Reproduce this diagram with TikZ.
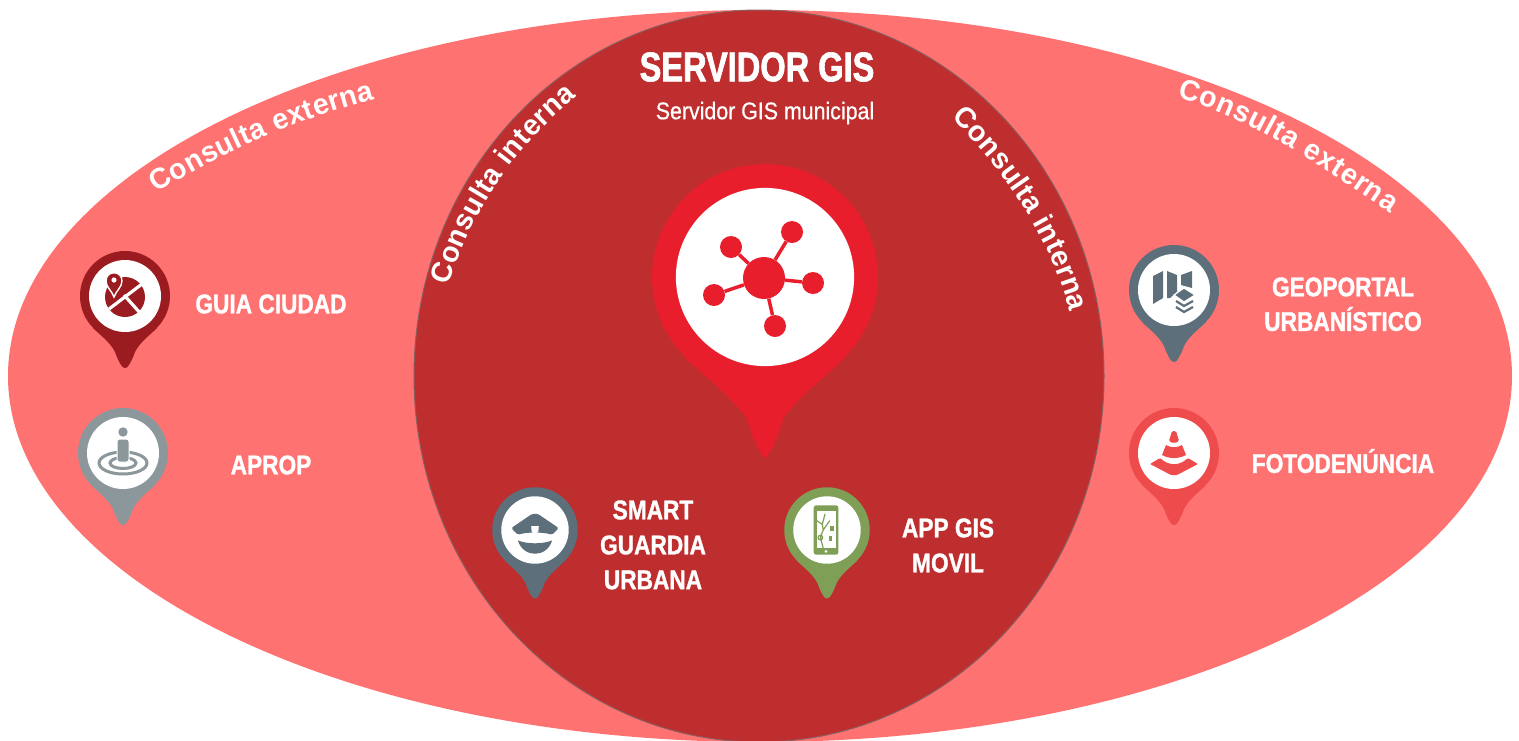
\documentclass[tikz,border=0pt]{standalone}
\usepackage{fontspec}
\usetikzlibrary{decorations.text}
\setmainfont{Liberation Sans}
\newfontfamily\condb[FakeStretch=0.84,BoldFeatures={FakeBold=1.2}]{Liberation Sans}
\newfontfamily\condt[FakeStretch=0.785,BoldFeatures={FakeBold=1.5}]{Liberation Sans}
\newfontfamily\condr[FakeStretch=0.89,FakeBold=0.6]{Liberation Sans}
\newfontfamily\curvef[FakeStretch=0.98]{Liberation Sans}
\definecolor{outerc}{HTML}{FF7272}
\definecolor{innerc}{HTML}{BE2E2E}
\definecolor{edgec}{HTML}{8A5F5F}
\definecolor{guiac}{HTML}{9B1C20}
\definecolor{apropc}{HTML}{8C979B}
\definecolor{geoc}{HTML}{5C6F7A}
\definecolor{fotoc}{HTML}{EE4C4C}
\definecolor{appc}{HTML}{7F9F56}
\definecolor{mainc}{HTML}{E81E2D}
\tikzset{
  lab/.style={text=white,font=\condb\bfseries\fontsize{27}{30}\selectfont,align=center,inner sep=0pt},
  curved/.style={decorate,decoration={text along path,text align={fit to path},
     text={|\curvef\bfseries\fontsize{29}{32}\selectfont\color{white}|#1}}},
  dotn/.style={circle,fill=mainc,inner sep=0pt,minimum size=#1},
}
\def\tw{10}\def\tipw{2.5}
% centre x, centre y, scale (1 = outer radius 45), colour, inner radius, icon
\newcommand{\mappin}[6]{%
  \begin{scope}[shift={(#1,#2)},x=#3pt,y=-#3pt]
    \fill[#4] (0,0) circle[radius=45];
    \fill[#4] (-32,32) .. controls (-25,39) and (-15,46) .. (-\tw,56)
       .. controls (-\tw+2,62) and (-\tipw-2.5,68) .. (-\tipw,71)
       .. controls (-\tipw+1,72.5) and (\tipw-1,72.5) .. (\tipw,71)
       .. controls (\tipw+2.5,68) and (\tw-2,62) .. (\tw,56)
       .. controls (15,46) and (25,39) .. (32,32) -- cycle;
    \fill[white] (0,0) circle[radius=#5];
    #6
  \end{scope}}
\begin{document}
\begin{tikzpicture}[x=1pt,y=-1pt]
\useasboundingbox (0,0) rectangle (1519,740);
\clip (0,0) rectangle (1519,740);
\fill[white] (0,0) rectangle (1519,740);
\fill[outerc] (760,376) ellipse[x radius=752,y radius=366];
\filldraw[fill=innerc,draw=edgec,line width=1pt] (759,376) ellipse[x radius=345,y radius=366];

% curved captions
\path[curved={Consulta externa}] (157,193) .. controls (222,152) and (300,118) .. (375,99);
\path[curved={Consulta interna}] (449,286) .. controls (468,220) and (510,150) .. (577,97);
\path[curved={Consulta interna}] (951,118) .. controls (1000,165) and (1050,235) .. (1070,312);
\path[curved={Consulta externa}] (1177,98) .. controls (1245,115) and (1320,165) .. (1390,213);

% titles
\node[text=white,font=\condt\bfseries\fontsize{41.5}{44}\selectfont,inner sep=0pt] (title) at (757,67) {SERVIDOR GIS};
\node[text=white,font=\condr\fontsize{24}{28}\selectfont,inner sep=0pt] (subtitle) at (765,113) {Servidor GIS municipal};

% main pin
\begingroup\def\tw{7.5}\def\tipw{1}
\mappin{765}{277}{2.51}{mainc}{35.5}{}
\endgroup
\node[dotn=42pt] (hub) at (764,278) {};
\node[dotn=22pt] (s1) at (792,232) {};
\node[dotn=22pt] (s2) at (731,247) {};
\node[dotn=22pt] (s3) at (714,295) {};
\node[dotn=22pt] (s4) at (813,283) {};
\node[dotn=22pt] (s5) at (775,326) {};
\foreach \s in {s1,s2,s3,s4,s5} \draw[mainc,line width=3.5pt] (hub) -- (\s);

% guia ciudad
\mappin{125}{296}{1}{guiac}{36}{
  \fill[guiac] (0,1) circle[radius=20];
  \draw[white,line width=3.2pt] (-16,13) -- (17,-12);
  \draw[white,line width=3.2pt] (-1,-1) -- (16,18);
  \filldraw[fill=guiac,draw=white,line width=1.4pt] (-11,1) .. controls (-13,-5) and (-19,-9) .. (-19,-15)
     .. controls (-19,-26) and (-3,-26) .. (-3,-15) .. controls (-3,-9) and (-9,-5) .. (-11,1) -- cycle;
  \fill[white] (-11,-16) circle[radius=2.6];
}
\node[lab] (guia) at (271,304) {GUIA CIUDAD};

% aprop
\mappin{123}{453}{1}{apropc}{36}{
  \draw[apropc,line width=3pt] (0,10) ellipse[x radius=24,y radius=11];
  \draw[apropc,line width=3pt] (0,10) ellipse[x radius=13,y radius=5.5];
  \fill[apropc] (0,-21) circle[radius=4.7];
  \filldraw[fill=apropc,draw=white,line width=1pt,rounded corners=2.5pt] (-6,-14) rectangle (6,9);
}
\node[lab] (aprop) at (271,465) {APROP};

% geoportal
\mappin{1174}{290}{1}{geoc}{36}{
  \fill[geoc] (-21,-14) -- (-11,-19) -- (-11,8) -- (-21,14) -- cycle;
  \fill[geoc] (-7,-19) -- (3,-15) -- (3,2) -- (-4,8) -- (-7,8) -- cycle;
  \fill[geoc] (7,-15) -- (18,-19) -- (18,-2) -- (7,-5) -- cycle;
  \filldraw[fill=geoc,draw=white,line width=1.2pt] (0,5) -- (10,-2) -- (21,5) -- (10,12) -- cycle;
  \draw[geoc,line width=2.2pt] (2,11) -- (10,16) -- (19,11);
  \draw[geoc,line width=2.2pt] (2,17) -- (10,22) -- (19,17);
}
\node[lab] (geo1) at (1343,287) {GEOPORTAL};
\node[lab] (geo2) at (1343,319) {URBANÍSTICO};

% fotodenuncia
\mappin{1174}{453}{1}{fotoc}{36}{
  \fill[fotoc,rounded corners=1.5pt] (-5,-12) -- (-2,-22) -- (2,-22) -- (5,-12) -- (5,-12) .. controls (2,-10) and (-2,-10) .. (-5,-12) -- cycle;
  \fill[fotoc] (-8,-8) .. controls (-3,-5) and (3,-5) .. (8,-8) -- (12,2) .. controls (5,6) and (-5,6) .. (-12,2) -- cycle;
  \fill[fotoc,rounded corners=1pt] (-24,11) -- (-14,5) .. controls (-5,13) and (5,13) .. (14,5) -- (24,11) -- (3,22) -- (-3,22) -- cycle;
}
\node[lab] (foto) at (1343,461) {FOTODENÚNCIA};

% smart guardia
\mappin{535}{530}{.95}{geoc}{35.5}{
  \fill[geoc,rounded corners=1.5pt] (-25,-2) -- (-3,-17) -- (3,-17) -- (25,-2) -- (18,5) .. controls (8,2) and (-8,2) .. (-18,5) -- cycle;
  \fill[white] (-4,-4) -- (4,-4) -- (3.5,2) -- (0,4) -- (-3.5,2) -- cycle;
  \fill[geoc] (-18,11) .. controls (-8,15) and (8,15) .. (18,11) .. controls (15,21) and (7,25) .. (0,25) .. controls (-7,25) and (-15,21) .. (-18,11) -- cycle;
}
\node[lab] (sg1) at (653,510) {SMART};
\node[lab] (sg2) at (653,545) {GUARDIA};
\node[lab] (sg3) at (653,580) {URBANA};

% app gis
\mappin{827}{530}{.95}{appc}{35.5}{
  \fill[appc,rounded corners=2.5pt] (-14,-26) rectangle (12,26);
  \fill[white] (-11,-20) rectangle (9,19);
  \fill[white] (-1,22.5) circle[radius=1.6];
  \draw[appc,line width=1.2pt] (-11,-10) -- (-5,-6) -- (-4,0) -- (3,-10) (-5,-6) -- (-2,-17) (-4,0) -- (-7,8) -- (-4,19) (-7,8) circle[radius=2.4];
  \fill[appc] (3,-4) rectangle (7,1);
  \fill[appc] (2,6) rectangle (5,12);
}
\node[lab] (app1) at (948,528) {APP GIS};
\node[lab] (app2) at (948,563) {MOVIL};
\end{tikzpicture}
\end{document}
